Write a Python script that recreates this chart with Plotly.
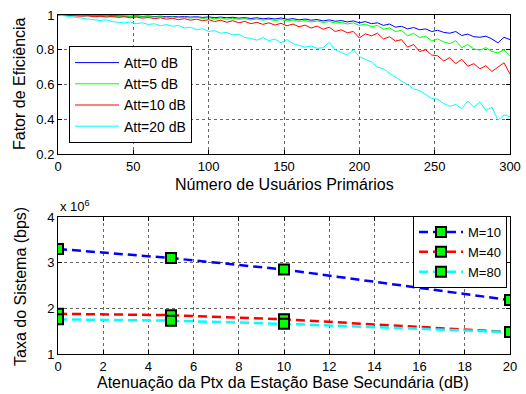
import plotly.graph_objects as go

# ---------------- Top chart data ----------------
users = list(range(0, 301, 4))

att0 = [1.000, 0.999, 0.998, 0.999, 0.997, 0.998, 0.996, 0.997, 0.995, 0.996,
        0.994, 0.996, 0.993, 0.995, 0.992, 0.994, 0.991, 0.993, 0.990, 0.992,
        0.989, 0.991, 0.988, 0.990, 0.986, 0.989, 0.985, 0.988, 0.984, 0.987,
        0.982, 0.985, 0.980, 0.984, 0.978, 0.982, 0.977, 0.983, 0.975, 0.979,
        0.972, 0.977, 0.970, 0.974, 0.966, 0.972, 0.964, 0.968, 0.960, 0.966,
        0.955, 0.962, 0.950, 0.955, 0.940, 0.948, 0.930, 0.935, 0.920, 0.928,
        0.915, 0.920, 0.905, 0.912, 0.900, 0.895, 0.905, 0.882, 0.890, 0.875,
        0.872, 0.878, 0.862, 0.840, 0.872, 0.858]

att5 = [1.000, 0.999, 0.998, 0.998, 0.996, 0.997, 0.995, 0.996, 0.993, 0.995,
        0.992, 0.994, 0.990, 0.993, 0.989, 0.991, 0.988, 0.990, 0.986, 0.989,
        0.984, 0.987, 0.982, 0.986, 0.980, 0.984, 0.978, 0.983, 0.976, 0.981,
        0.975, 0.979, 0.972, 0.977, 0.970, 0.975, 0.968, 0.974, 0.966, 0.971,
        0.963, 0.968, 0.960, 0.966, 0.957, 0.962, 0.954, 0.958, 0.948, 0.955,
        0.940, 0.948, 0.932, 0.940, 0.918, 0.926, 0.905, 0.912, 0.880, 0.895,
        0.870, 0.878, 0.850, 0.862, 0.845, 0.835, 0.852, 0.812, 0.830, 0.805,
        0.798, 0.812, 0.790, 0.782, 0.800, 0.765]

att10 = [1.000, 0.998, 0.996, 0.997, 0.993, 0.995, 0.990, 0.993, 0.988, 0.991,
         0.986, 0.990, 0.984, 0.988, 0.982, 0.986, 0.979, 0.984, 0.976, 0.981,
         0.973, 0.979, 0.970, 0.976, 0.967, 0.973, 0.962, 0.970, 0.958, 0.967,
         0.955, 0.963, 0.950, 0.958, 0.946, 0.955, 0.942, 0.952, 0.938, 0.948,
         0.932, 0.942, 0.925, 0.936, 0.918, 0.930, 0.905, 0.915, 0.898, 0.905,
         0.868, 0.892, 0.880, 0.895, 0.862, 0.875, 0.850, 0.858, 0.815, 0.830,
         0.790, 0.800, 0.770, 0.765, 0.735, 0.755, 0.720, 0.745, 0.705, 0.720,
         0.690, 0.708, 0.675, 0.700, 0.725, 0.660]

att20 = [1.000, 0.995, 0.990, 0.988, 0.982, 0.975, 0.970, 0.968, 0.972, 0.962,
         0.958, 0.955, 0.960, 0.950, 0.955, 0.945, 0.950, 0.938, 0.945, 0.935,
         0.940, 0.925, 0.930, 0.915, 0.922, 0.905, 0.910, 0.895, 0.900, 0.885,
         0.890, 0.870, 0.865, 0.855, 0.870, 0.852, 0.862, 0.840, 0.858, 0.835,
         0.825, 0.815, 0.822, 0.808, 0.812, 0.842, 0.800, 0.785, 0.770, 0.800,
         0.760, 0.745, 0.730, 0.700, 0.690, 0.665, 0.640, 0.620, 0.600, 0.575,
         0.565, 0.545, 0.520, 0.515, 0.490, 0.475, 0.485, 0.460, 0.505, 0.470,
         0.500, 0.450, 0.470, 0.395, 0.425, 0.415]

top_series = [("Att=0 dB", att0, "#0000ff"),
              ("Att=5 dB", att5, "#00ff00"),
              ("Att=10 dB", att10, "#ff0000"),
              ("Att=20 dB", att20, "#00ffff")]

top_xticks = [0, 50, 100, 150, 200, 250, 300]
top_yticks = [0.2, 0.4, 0.6, 0.8, 1.0]

# ---------------- Bottom chart data ----------------
atten = [0, 5, 10, 20]
m10 = [3.30, 3.10, 2.85, 2.18]   # x 10^6 bps
m40 = [1.88, 1.85, 1.76, 1.48]
m80 = [1.76, 1.73, 1.66, 1.48]

bottom_series = [("M=10", m10, "#0000ff"),
                 ("M=40", m40, "#ff0000"),
                 ("M=80", m80, "#00ffff")]

bot_xticks = list(range(0, 21, 2))
bot_yticks = [1, 2, 3, 4]

FONT = "Liberation Sans, Arial, Helvetica, sans-serif"

fig = go.Figure()

for name, ys, col in top_series:
    fig.add_trace(go.Scatter(x=users, y=ys, mode="lines", name=name,
                             line=dict(color=col, width=1),
                             xaxis="x", yaxis="y", legend="legend"))

for name, ys, col in bottom_series:
    fig.add_trace(go.Scatter(x=atten, y=ys, mode="lines+markers", name=name,
                             line=dict(color=col, width=2.5, dash="9px,5px"),
                             marker=dict(symbol="square", size=10, color="#00ff00",
                                         line=dict(color="black", width=2)),
                             xaxis="x2", yaxis="y2", legend="legend2"))

W, H = 526, 394
def px(x):
    return x / W
def py(y):
    return 1 - y / H

axis_common = dict(showline=True, linecolor="black", linewidth=1, mirror="ticks",
                   ticks="inside", ticklen=4, tickcolor="black", automargin=False,
                   showgrid=True, gridcolor="#666666", griddash="dot", gridwidth=1,
                   zeroline=False, tickfont=dict(family=FONT, size=13, color="black"))

def label(text, x, y, size=16, angle=0, xanchor="center"):
    return dict(text=text, x=px(x), y=py(y), xref="paper", yref="paper",
                xanchor=xanchor, yanchor="middle", showarrow=False,
                textangle=angle, font=dict(family=FONT, size=size, color="black"))

fig.update_layout(
    width=W, height=H,
    margin=dict(l=0, r=0, t=0, b=0, autoexpand=False),
    paper_bgcolor="white", plot_bgcolor="white",
    font=dict(family=FONT, color="black"),
    xaxis=dict(domain=[px(58), px(510)], range=[0, 300], tickvals=top_xticks,
               anchor="y", **axis_common),
    yaxis=dict(domain=[py(154), py(15)], range=[0.2, 1.0], tickvals=top_yticks,
               ticktext=["0.2", "0.4", "0.6", "0.8", "1"], anchor="x", **axis_common),
    xaxis2=dict(domain=[px(58), px(510)], range=[0, 20], tickvals=bot_xticks,
                anchor="y2", **axis_common),
    yaxis2=dict(domain=[py(354), py(217)], range=[1, 4], tickvals=bot_yticks,
                anchor="x2", **axis_common),
    legend=dict(x=px(69), y=py(46), xanchor="left", yanchor="top",
                bgcolor="white", bordercolor="black", borderwidth=1,
                font=dict(family=FONT, size=14, color="black"),
                tracegroupgap=0, itemwidth=44),
    legend2=dict(x=px(507), y=py(216), xanchor="right", yanchor="top",
                 bgcolor="white", bordercolor="black", borderwidth=1,
                 font=dict(family=FONT, size=13, color="black"),
                 tracegroupgap=0, itemwidth=44),
    showlegend=True,
    annotations=[
        label("Número de Usuários Primários", 284, 184),
        label("Fator de Eficiência", 20, 84, angle=-90),
        label("Atenuação da Ptx da Estação Base Secundária (dB)", 283, 382),
        label("Taxa do Sistema (bps)", 20, 287, angle=-90),
        label("x 10<sup>6</sup>", 58, 206, size=13, xanchor="left"),
    ],
)

fig.write_html("out.html")
